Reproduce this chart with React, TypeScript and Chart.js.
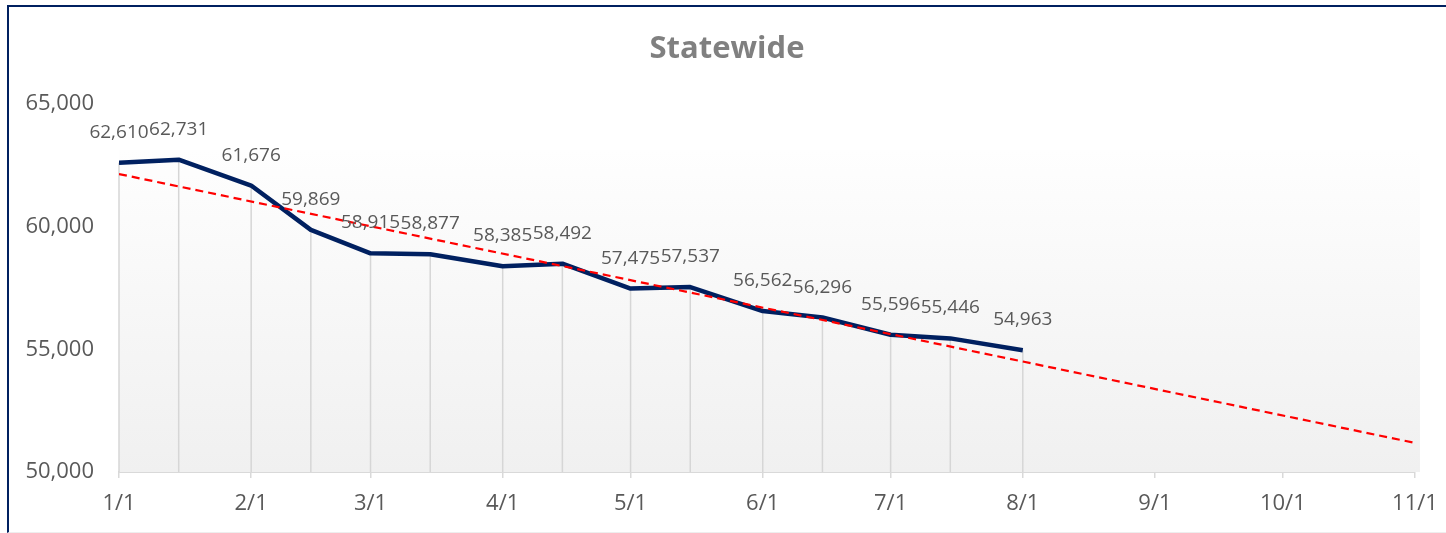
import React, { useEffect, useRef } from "react";
import { Chart, registerables } from "chart.js";

Chart.register(...registerables);

// ---- data ----
const pointDates = ["1/1", "1/15", "2/1", "2/15", "3/1", "3/15", "4/1", "4/15", "5/1", "5/15", "6/1", "6/15", "7/1", "7/15", "8/1"];
const statewideValues = [62610, 62731, 61676, 59869, 58915, 58877, 58385, 58492, 57475, 57537, 56562, 56296, 55596, 55446, 54963];
const xTickLabels = ["1/1", "2/1", "3/1", "4/1", "5/1", "6/1", "7/1", "8/1", "9/1", "10/1", "11/1"];
const yTickValues = [50000, 55000, 60000, 65000];
const chartTitle = "Statewide";

const monthDays = [31, 28, 31, 30, 31, 30, 31, 31, 30, 31, 30, 31];
function dayOfYear(md: string): number {
  const [m, d] = md.split("/").map(Number);
  let n = 0;
  for (let i = 0; i < m - 1; i++) n += monthDays[i];
  return n + d - 1;
}

const FONT = "'Open Sans', 'DejaVu Sans', sans-serif";

export default function App() {
  const ref = useRef<HTMLCanvasElement | null>(null);

  useEffect(() => {
    if (!ref.current) return;
    const xs = pointDates.map(dayOfYear);
    const pts = xs.map((x, i) => ({ x, y: statewideValues[i] }));
    const tickDays = xTickLabels.map(dayOfYear);
    const xMin = tickDays[0];
    const xMax = tickDays[tickDays.length - 1];

    // linear trendline (least squares) extended to the last tick
    const n = xs.length;
    const mx = xs.reduce((a, b) => a + b, 0) / n;
    const my = statewideValues.reduce((a, b) => a + b, 0) / n;
    let sxy = 0, sxx = 0;
    for (let i = 0; i < n; i++) {
      sxy += (xs[i] - mx) * (statewideValues[i] - my);
      sxx += (xs[i] - mx) * (xs[i] - mx);
    }
    const slope = sxy / sxx;
    const icpt = my - slope * mx;
    const trend = [
      { x: xMin, y: icpt + slope * xMin },
      { x: xMax, y: icpt + slope * xMax },
    ];

    const bgPlugin = {
      id: "bgPlugin",
      beforeDatasetsDraw(chart: any) {
        const { ctx, chartArea } = chart;
        const top = chartArea.top + 46;
        const g = ctx.createLinearGradient(0, top, 0, chartArea.bottom);
        g.addColorStop(0, "#fefefe");
        g.addColorStop(1, "#f0f0f0");
        ctx.save();
        ctx.fillStyle = g;
        ctx.fillRect(chartArea.left, top, chartArea.right - chartArea.left + 5, chartArea.bottom - top);
        // drop lines
        const meta = chart.getDatasetMeta(0);
        ctx.strokeStyle = "#d6d6d6";
        ctx.lineWidth = 1.5;
        meta.data.forEach((p: any) => {
          ctx.beginPath();
          ctx.moveTo(p.x, p.y);
          ctx.lineTo(p.x, chartArea.bottom);
          ctx.stroke();
        });
        ctx.restore();
      },
      afterDatasetsDraw(chart: any) {
        const { ctx } = chart;
        const meta = chart.getDatasetMeta(0);
        ctx.save();
        ctx.font = `19px ${FONT}`;
        ctx.fillStyle = "#595959";
        ctx.textAlign = "center";
        ctx.textBaseline = "alphabetic";
        meta.data.forEach((p: any, i: number) => {
          ctx.fillText(statewideValues[i].toLocaleString("en-US"), p.x, p.y - 25);
        });
        // title
        ctx.font = `bold 31px ${FONT}`;
        ctx.fillStyle = "#808080";
        ctx.textBaseline = "middle";
        ctx.fillText(chartTitle, 727, 49);
        ctx.restore();
      },
    };

    const chart = new Chart(ref.current, {
      type: "line",
      data: {
        datasets: [
          {
            label: "Statewide",
            data: pts,
            borderColor: "#002060",
            borderWidth: 4.5,
            pointRadius: 0,
            tension: 0,
            borderJoinStyle: "round",
            order: 1,
          } as any,
          {
            label: "Trend",
            data: trend,
            borderColor: "#ff0000",
            borderWidth: 2.2,
            borderDash: [8, 5],
            pointRadius: 0,
            tension: 0,
            order: 0,
          } as any,
        ],
      },
      options: {
        animation: false,
        responsive: true,
        maintainAspectRatio: false,
        layout: { padding: { left: 0, right: 31, top: 104, bottom: 0 } },
        plugins: {
          legend: { display: false },
          title: { display: false },
          tooltip: { enabled: false },
        },
        scales: {
          x: {
            type: "linear",
            min: xMin,
            max: xMax,
            afterBuildTicks(scale: any) {
              scale.ticks = tickDays.map((v) => ({ value: v }));
            },
            afterFit(scale: any) {
              scale.height = 61;
            },
            grid: {
              display: true,
              drawOnChartArea: false,
              drawTicks: true,
              tickLength: 6,
              color: "#d9d9d9",
              lineWidth: 1.5,
            },
            border: { display: true, color: "#d9d9d9", width: 2 },
            ticks: {
              autoSkip: false,
              maxRotation: 0,
              padding: 6,
              color: "#595959",
              font: { family: FONT, size: 22, lineHeight: 1.75 },
              callback: (v: any) => {
                const i = tickDays.indexOf(Number(v));
                return i >= 0 ? xTickLabels[i] : "";
              },
            },
          },
          y: {
            min: yTickValues[0],
            max: yTickValues[yTickValues.length - 1],
            afterBuildTicks(scale: any) {
              scale.ticks = yTickValues.map((v) => ({ value: v }));
            },
            afterFit(scale: any) {
              scale.width = 119;
            },
            grid: { display: false, drawTicks: false },
            border: { display: false },
            ticks: {
              padding: 25,
              color: "#595959",
              font: { family: FONT, size: 22 },
              callback: (v: any) => Number(v).toLocaleString("en-US"),
            },
          },
        },
      },
      plugins: [bgPlugin],
    });
    return () => chart.destroy();
  }, []);

  return (
    <div style={{ position: "absolute", left: 0, top: 0, width: 1446, height: 533, background: "#fff", overflow: "hidden" }}>
      <div style={{ position: "absolute", left: 0, top: 0, width: 1446, height: 533 }}>
        <canvas ref={ref} />
      </div>
      <div
        style={{
          position: "absolute",
          left: 7,
          top: 5,
          width: 1460,
          height: 528,
          boxSizing: "border-box",
          borderLeft: "2px solid #002060",
          borderTop: "2px solid #002060",
          borderBottom: "1px solid #eeeeee",
          pointerEvents: "none",
        }}
      />
    </div>
  );
}
